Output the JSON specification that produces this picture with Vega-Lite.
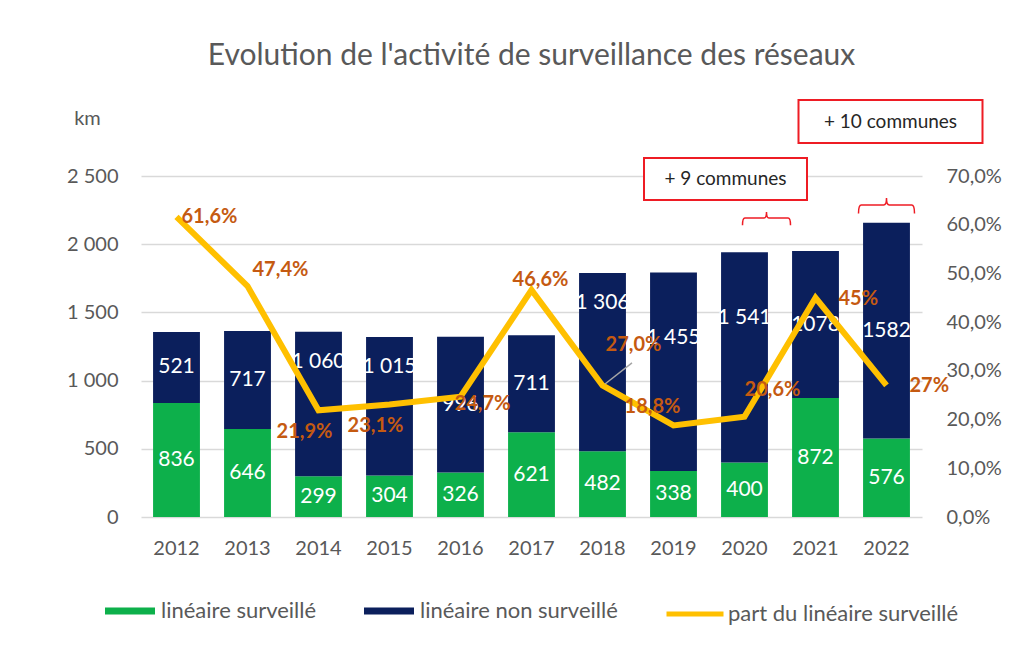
{
  "$schema": "https://vega.github.io/schema/vega-lite/v6.json",
  "width": 781,
  "height": 341,
  "autosize": {"type": "none"},
  "padding": {"left": 141, "top": 176, "right": 112, "bottom": 129},
  "background": "white",
  "title": {"text": "Evolution de l'activité de surveillance des réseaux", "fontSize": 30, "font": "Lato", "fontWeight": "normal", "color": "#595959", "offset": 28, "anchor": "middle"},
  "datasets": {
    "bars": [
      {"year": "2012", "serie": "linéaire surveillé", "km": 836, "label": "836"},
      {"year": "2012", "serie": "linéaire non surveillé", "km": 521, "label": "521"},
      {"year": "2013", "serie": "linéaire surveillé", "km": 646, "label": "646"},
      {"year": "2013", "serie": "linéaire non surveillé", "km": 717, "label": "717"},
      {"year": "2014", "serie": "linéaire surveillé", "km": 299, "label": "299"},
      {"year": "2014", "serie": "linéaire non surveillé", "km": 1060, "label": "1 060"},
      {"year": "2015", "serie": "linéaire surveillé", "km": 304, "label": "304"},
      {"year": "2015", "serie": "linéaire non surveillé", "km": 1015, "label": "1 015"},
      {"year": "2016", "serie": "linéaire surveillé", "km": 326, "label": "326"},
      {"year": "2016", "serie": "linéaire non surveillé", "km": 996, "label": "996"},
      {"year": "2017", "serie": "linéaire surveillé", "km": 621, "label": "621"},
      {"year": "2017", "serie": "linéaire non surveillé", "km": 711, "label": "711"},
      {"year": "2018", "serie": "linéaire surveillé", "km": 482, "label": "482"},
      {"year": "2018", "serie": "linéaire non surveillé", "km": 1306, "label": "1 306"},
      {"year": "2019", "serie": "linéaire surveillé", "km": 338, "label": "338"},
      {"year": "2019", "serie": "linéaire non surveillé", "km": 1455, "label": "1 455"},
      {"year": "2020", "serie": "linéaire surveillé", "km": 400, "label": "400"},
      {"year": "2020", "serie": "linéaire non surveillé", "km": 1541, "label": "1 541"},
      {"year": "2021", "serie": "linéaire surveillé", "km": 872, "label": "872"},
      {"year": "2021", "serie": "linéaire non surveillé", "km": 1078, "label": "1078"},
      {"year": "2022", "serie": "linéaire surveillé", "km": 576, "label": "576"},
      {"year": "2022", "serie": "linéaire non surveillé", "km": 1582, "label": "1582"}
    ],
    "part": [
      {"year": "2012", "part": 0.616, "label": "61,6%"},
      {"year": "2013", "part": 0.474, "label": "47,4%"},
      {"year": "2014", "part": 0.219, "label": "21,9%"},
      {"year": "2015", "part": 0.231, "label": "23,1%"},
      {"year": "2016", "part": 0.247, "label": "24,7%"},
      {"year": "2017", "part": 0.466, "label": "46,6%"},
      {"year": "2018", "part": 0.270, "label": "27,0%"},
      {"year": "2019", "part": 0.188, "label": "18,8%"},
      {"year": "2020", "part": 0.206, "label": "20,6%"},
      {"year": "2021", "part": 0.45, "label": "45%"},
      {"year": "2022", "part": 0.27, "label": "27%"}
    ]
  },
  "encoding": {
    "x": {
      "field": "year", "type": "ordinal", "title": null,
      "scale": {"paddingInner": 0.34, "paddingOuter": 0.17},
      "axis": {"labelAngle": 0, "labelPadding": 21, "grid": false, "labelColor": "#595959"}
    }
  },
  "layer": [
    {
      "layer": [
        {
          "data": {"name": "bars"},
          "mark": {"type": "bar"},
          "encoding": {
            "y": {
              "field": "km", "type": "quantitative", "stack": "zero",
              "scale": {"domain": [0, 2500], "nice": false},
              "axis": {"values": [0, 500, 1000, 1500, 2000, 2500], "format": ",d", "grid": true, "labelPadding": 23,
                "title": "km", "titleAngle": 0, "titleX": -54, "titleY": -58, "titleAlign": "center", "titleBaseline": "middle",
                "titleFontSize": 20, "titleFontWeight": "normal", "titleColor": "#595959", "titleFont": "Lato"}
            },
            "color": {
              "field": "serie", "type": "nominal",
              "scale": {"domain": ["linéaire surveillé", "linéaire non surveillé"], "range": ["#0db04b", "#0b1f5c"]},
              "legend": {"orient": "none", "legendX": -36, "legendY": 410, "direction": "horizontal", "title": null,
                "symbolType": "M-1,-0.14H1V0.14H-1Z", "symbolSize": 2500, "symbolStrokeWidth": 0,
                "labelFontSize": 22, "labelColor": "#595959", "labelFont": "Lato", "labelOffset": 6, "columnPadding": 47, "labelLimit": 400}
            },
            "order": {"field": "serie", "sort": "descending"}
          }
        },
        {
          "data": {"name": "bars"},
          "transform": [{"filter": {"not": {"and": [{"field": "serie", "equal": "linéaire non surveillé"}, {"field": "year", "oneOf": ["2014", "2015", "2018", "2019", "2020"]}]}}}],
          "mark": {"type": "text", "color": "white", "fontSize": 21, "font": "Lato", "baseline": "middle"},
          "encoding": {
            "y": {"field": "km", "type": "quantitative", "stack": "zero", "bandPosition": 0.5, "scale": {"domain": [0, 2500], "nice": false}},
            "detail": {"field": "serie"},
            "order": {"field": "serie", "sort": "descending"},
            "text": {"field": "label"}
          }
        },
        {
          "data": {"name": "bars"},
          "transform": [
            {"stack": "km", "groupby": ["year"], "sort": [{"field": "serie", "order": "descending"}], "as": ["km0", "km1"]},
            {"filter": {"and": [{"field": "serie", "equal": "linéaire non surveillé"}, {"field": "year", "oneOf": ["2014", "2015", "2018"]}]}}
          ],
          "mark": {"type": "text", "color": "white", "fontSize": 21, "font": "Lato", "baseline": "middle", "dy": 30},
          "encoding": {
            "y": {"field": "km1", "type": "quantitative", "scale": {"domain": [0, 2500], "nice": false}},
            "text": {"field": "label"}
          }
        },
        {
          "data": {"name": "bars"},
          "transform": [
            {"stack": "km", "groupby": ["year"], "sort": [{"field": "serie", "order": "descending"}], "as": ["km0", "km1"]},
            {"filter": {"and": [{"field": "serie", "equal": "linéaire non surveillé"}, {"field": "year", "oneOf": ["2019", "2020"]}]}}
          ],
          "mark": {"type": "text", "color": "white", "fontSize": 21, "font": "Lato", "baseline": "middle", "dy": 66},
          "encoding": {
            "y": {"field": "km1", "type": "quantitative", "scale": {"domain": [0, 2500], "nice": false}},
            "text": {"field": "label"}
          }
        },
        {
          "data": {"values": [{"year": "2020", "note": "+ 9 communes"}]},
          "layer": [
            {
              "mark": {"type": "bar", "width": 163, "xOffset": -19, "fill": "white", "stroke": "#ee1c24", "strokeWidth": 2},
              "encoding": {"y": {"datum": 2324, "scale": {"domain": [0, 2500], "nice": false}}, "y2": {"datum": 2632}}
            },
            {
              "mark": {"type": "text", "xOffset": -19, "fontSize": 19, "font": "Lato", "color": "#262626", "baseline": "middle"},
              "encoding": {"y": {"datum": 2478, "scale": {"domain": [0, 2500], "nice": false}}, "text": {"field": "note"}}
            }
          ]
        },
        {
          "data": {"values": [{"year": "2022", "note": "+ 10 communes"}]},
          "layer": [
            {
              "mark": {"type": "bar", "width": 184, "xOffset": 4, "fill": "white", "stroke": "#ee1c24", "strokeWidth": 2},
              "encoding": {"y": {"datum": 2742, "scale": {"domain": [0, 2500], "nice": false}}, "y2": {"datum": 3057}}
            },
            {
              "mark": {"type": "text", "xOffset": 4, "fontSize": 19, "font": "Lato", "color": "#262626", "baseline": "middle"},
              "encoding": {"y": {"datum": 2896, "scale": {"domain": [0, 2500], "nice": false}}, "text": {"field": "note"}}
            }
          ]
        },
        {
          "data": {"values": [{"year": "2020"}]},
          "mark": {"type": "point", "shape": "M-1,0.3Q-1,0,-0.9,0H-0.1Q0,0,0,-0.25Q0,0,0.1,0H0.9Q1,0,1,0.3", "filled": false, "stroke": "#ee1c24", "strokeWidth": 1.5, "size": 2304, "xOffset": 22, "opacity": 1},
          "encoding": {"y": {"datum": 2192, "scale": {"domain": [0, 2500], "nice": false}}}
        },
        {
          "data": {"values": [{"year": "2022"}]},
          "mark": {"type": "point", "shape": "M-1,0.3Q-1,0,-0.9,0H-0.1Q0,0,0,-0.25Q0,0,0.1,0H0.9Q1,0,1,0.3", "filled": false, "stroke": "#ee1c24", "strokeWidth": 1.5, "size": 3136, "opacity": 1},
          "encoding": {"y": {"datum": 2287, "scale": {"domain": [0, 2500], "nice": false}}}
        }
      ]
    },
    {
      "data": {"name": "part"},
      "encoding": {
        "y": {"field": "part", "type": "quantitative", "scale": {"domain": [0, 0.7], "nice": false},
          "axis": {"orient": "right", "values": [0, 0.1, 0.2, 0.3, 0.4, 0.5, 0.6, 0.7], "format": ".1%", "grid": false, "labelPadding": 24, "title": null}},
        "text": {"field": "label"}
      },
      "layer": [
        {
          "mark": {"type": "line", "strokeWidth": 6},
          "encoding": {
            "text": null,
            "stroke": {"datum": "part du linéaire surveillé", "type": "nominal",
              "scale": {"range": ["#ffc000"]},
              "legend": {"orient": "none", "legendX": 523, "legendY": 407, "title": null, "symbolType": "stroke", "symbolSize": 3249, "symbolStrokeWidth": 5,
                "labelFontSize": 22, "labelColor": "#595959", "labelFont": "Lato", "labelOffset": 2, "labelLimit": 400}}
          }
        },
        {
          "transform": [{"filter": {"field": "year", "equal": "2018"}}],
          "mark": {"type": "point", "shape": "M-1,0.78L1,-0.78", "filled": false, "stroke": "#a6a6a6", "strokeWidth": 1.5, "size": 729, "xOffset": 16, "yOffset": -12, "opacity": 1}
        },
        {
          "transform": [{"filter": {"field": "year", "equal": "2012"}}],
          "mark": {"type": "text", "align": "left", "dx": 5, "dy": 0, "fontSize": 20, "fontWeight": "bold", "font": "Lato", "color": "#c55a11", "baseline": "middle"}
        },
        {
          "transform": [{"filter": {"field": "year", "oneOf": ["2021", "2022"]}}],
          "mark": {"type": "text", "align": "left", "dx": 23, "dy": 1, "fontSize": 20, "fontWeight": "bold", "font": "Lato", "color": "#c55a11", "baseline": "middle"}
        },
        {
          "transform": [{"filter": {"field": "year", "equal": "2013"}}],
          "mark": {"type": "text", "align": "left", "dx": 5, "dy": -16, "fontSize": 20, "fontWeight": "bold", "font": "Lato", "color": "#c55a11", "baseline": "middle"}
        },
        {
          "transform": [{"filter": {"field": "year", "oneOf": ["2014", "2015"]}}],
          "mark": {"type": "text", "align": "center", "dx": -14, "dy": 22, "fontSize": 20, "fontWeight": "bold", "font": "Lato", "color": "#c55a11", "baseline": "middle"}
        },
        {
          "transform": [{"filter": {"field": "year", "equal": "2016"}}],
          "mark": {"type": "text", "align": "center", "dx": 22, "dy": 7, "fontSize": 20, "fontWeight": "bold", "font": "Lato", "color": "#c55a11", "baseline": "middle"}
        },
        {
          "transform": [{"filter": {"field": "year", "equal": "2017"}}],
          "mark": {"type": "text", "align": "center", "dx": 9, "dy": -10, "fontSize": 20, "fontWeight": "bold", "font": "Lato", "color": "#c55a11", "baseline": "middle"}
        },
        {
          "transform": [{"filter": {"field": "year", "equal": "2018"}}],
          "mark": {"type": "text", "align": "center", "dx": 31, "dy": -40, "fontSize": 20, "fontWeight": "bold", "font": "Lato", "color": "#c55a11", "baseline": "middle"}
        },
        {
          "transform": [{"filter": {"field": "year", "equal": "2019"}}],
          "mark": {"type": "text", "align": "center", "dx": -21, "dy": -18, "fontSize": 20, "fontWeight": "bold", "font": "Lato", "color": "#c55a11", "baseline": "middle"}
        },
        {
          "transform": [{"filter": {"field": "year", "equal": "2020"}}],
          "mark": {"type": "text", "align": "center", "dx": 28, "dy": -27, "fontSize": 20, "fontWeight": "bold", "font": "Lato", "color": "#c55a11", "baseline": "middle"}
        }
      ]
    }
  ],
  "resolve": {"scale": {"y": "independent"}},
  "config": {
    "font": "Lato",
    "locale": {"number": {"decimal": ",", "thousands": " ", "grouping": [3], "currency": ["", " €"]}},
    "view": {"stroke": null},
    "axis": {"labelFont": "Lato", "labelFontSize": 20, "labelColor": "#595959", "domain": false, "ticks": false, "gridColor": "#d9d9d9", "gridWidth": 1.5}
  }
}
